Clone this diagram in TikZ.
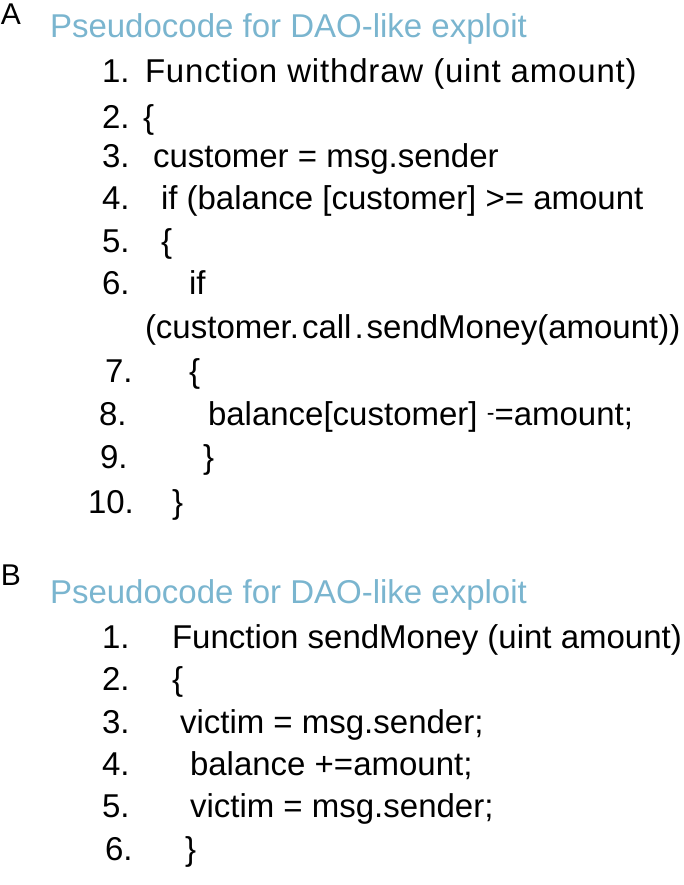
\documentclass[tikz,border=0pt]{standalone}
\usepackage{fontspec}
\setmainfont{Liberation Sans}
\definecolor{titleblue}{RGB}{122,181,207}
\tikzset{
  txt/.style={anchor=base west, inner sep=0pt, outer sep=0pt, font=\fontsize{33}{40}\selectfont},
  ttl/.style={txt, text=titleblue},
  lbl/.style={anchor=base west, inner sep=0pt, outer sep=0pt, font=\fontsize{30}{34}\selectfont}
}
\begin{document}
\begin{tikzpicture}[x=1pt,y=-1pt]
\useasboundingbox (0,0) rectangle (684,885);
% Panel A
\node[lbl] (la) at (1,25) {A};
\node[ttl] (ta) at (50,38) {Pseudocode for DAO-like exploit};
\node[txt] (a1n) at (102,83) {1.};
\node[txt] (a1) at (145,83) {\addfontfeature{LetterSpace=2.5}Function withdraw (uint amount)};
\node[txt] (a2n) at (102,129) {2.};
\node[txt] (a2) at (143,129) {\{};
\node[txt] (a3n) at (102,168) {3.};
\node[txt] (a3) at (153,168) {customer = msg.sender};
\node[txt] (a4n) at (102,210) {4.};
\node[txt] (a4) at (161,210) {if (balance [customer] >= amount};
\node[txt] (a5n) at (102,252) {5.};
\node[txt] (a5) at (161,252) {\{};
\node[txt] (a6n) at (102,294) {6.};
\node[txt] (a6) at (189,294) {if};
\node[txt] (a6b) at (145,338) {(customer.\hspace{3pt}call\hspace{3pt}.\hspace{3pt}sendMoney(amount))};
\node[txt] (a7n) at (105,382) {7.};
\node[txt] (a7) at (189,382) {\{};
\node[txt] (a8n) at (99,425) {8.};
\node[txt] (a8) at (208,425) {balance[customer] \raisebox{5pt}{\scalebox{0.7}{-}}=amount;};
\node[txt] (a9n) at (100,468) {9.};
\node[txt] (a9) at (203,468) {\}};
\node[txt] (a10n) at (88,513) {10.};
\node[txt] (a10) at (172,513) {\}};
% Panel B
\node[lbl] (lb) at (1,585) {B};
\node[ttl] (tb) at (50,603) {Pseudocode for DAO-like exploit};
\node[txt] (b1n) at (102,648) {1.};
\node[txt] (b1) at (172,648) {Function sendMoney (uint amount)};
\node[txt] (b2n) at (102,690) {2.};
\node[txt] (b2) at (172,690) {\{};
\node[txt] (b3n) at (102,733) {3.};
\node[txt] (b3) at (180,733) {victim = msg.sender;};
\node[txt] (b4n) at (102,775) {4.};
\node[txt] (b4) at (190,775) {balance +=amount;};
\node[txt] (b5n) at (102,817) {5.};
\node[txt] (b5) at (190,817) {victim = msg.sender;};
\node[txt] (b6n) at (105,860) {6.};
\node[txt] (b6) at (185,860) {\}};
\end{tikzpicture}
\end{document}
